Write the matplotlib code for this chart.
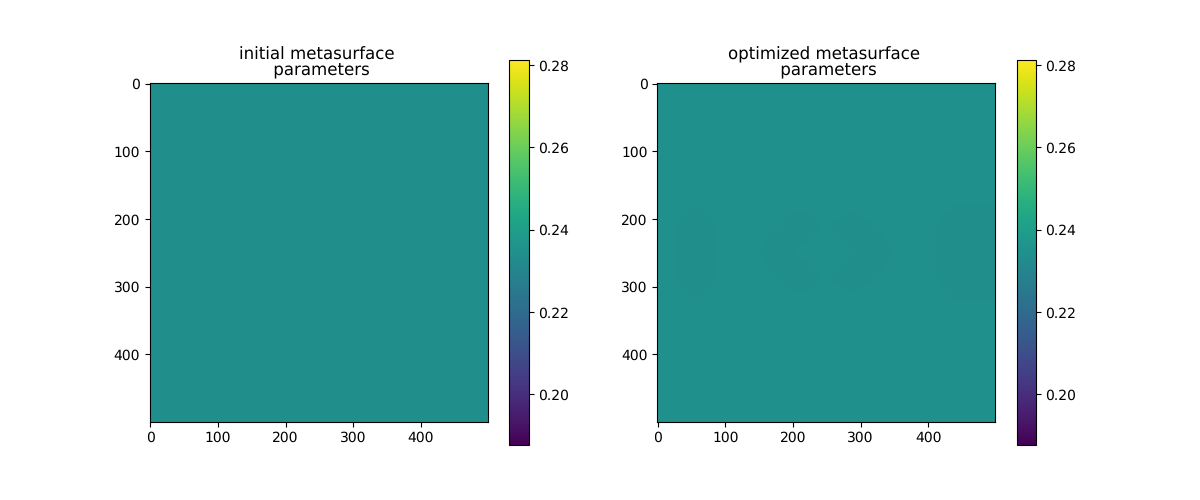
import numpy as np
import matplotlib
matplotlib.use("Agg")
import matplotlib.pyplot as plt

plt.rcParams["text.hinting"] = "no_hinting"
plt.rcParams["text.hinting_factor"] = 8

titles = ["initial metasurface \n parameters", "optimized metasurface \n parameters"]
color_min = 0.18766
color_max = 0.28127
initial_level = 0.2344
initial_params = [[initial_level]]

# Three faint levels
a, b, c = 0.2346, 0.2345, 0.2343
optimized_params = [
    [a, a, a, a, a, a, a, a, a, a, a, a, a],
    [a, a, a, a, b, b, b, b, b, a, a, a, a],
    [a, a, b, b, a, a, a, a, a, b, b, a, a],
    [a, a, b, a, a, b, b, b, a, a, b, b, a],
    [a, b, a, b, a, a, a, a, a, b, a, b, b],
    [b, c, b, a, b, c, b, c, b, a, b, c, c],
    [b, c, b, a, c, b, a, b, c, a, b, c, c],
    [b, c, b, a, b, c, b, c, b, a, b, c, c],
    [a, b, a, b, a, a, a, a, a, b, a, b, b],
    [a, a, b, a, a, b, b, b, a, a, b, b, a],
    [a, a, b, b, a, a, a, a, a, b, b, a, a],
    [a, a, a, a, b, b, b, b, b, a, a, a, a],
    [a, a, a, a, a, a, a, a, a, a, a, a, a],
]
panels = [initial_params, optimized_params]

fig, axes = plt.subplots(1, 2, figsize=(12, 5), dpi=100)
for ax, title, values in zip(axes, titles, panels):
    im = ax.imshow(np.array(values), cmap="viridis", vmin=color_min, vmax=color_max,
                   extent=(-0.5, 499.5, 499.5, -0.5),
                   interpolation="bilinear" if len(values) > 1 else "nearest")
    ax.set_title(title, linespacing=0.95)
    fig.colorbar(im, ax=ax)
fig.savefig("out.png", dpi=100)
